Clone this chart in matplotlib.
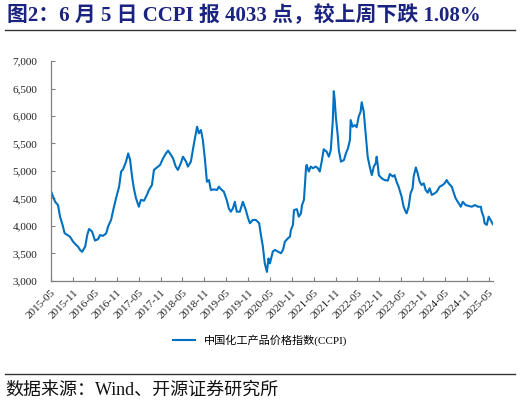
import pandas as pd
import matplotlib.pyplot as plt
import matplotlib.ticker as ticker
import matplotlib.dates as mdates
from matplotlib.lines import Line2D

plt.rcParams['font.family'] = ['Liberation Serif', 'Noto Sans CJK SC', 'DejaVu Sans']

# CCPI weekly index
dates = [
    '2015-05-01', '2015-06-04', '2015-06-28', '2015-07-15', '2015-08-05', '2015-08-22',
    '2015-09-12', '2015-10-06', '2015-11-01', '2015-11-26', '2015-12-12', '2015-12-29',
    '2016-01-15', '2016-02-10', '2016-02-27', '2016-03-13', '2016-04-07', '2016-05-02',
    '2016-05-27', '2016-06-13', '2016-07-07', '2016-08-03', '2016-08-19', '2016-09-13',
    '2016-10-01', '2016-10-25', '2016-11-19', '2016-12-06', '2016-12-22', '2017-01-16',
    '2017-02-03', '2017-02-19', '2017-03-07', '2017-03-22', '2017-04-09', '2017-05-03',
    '2017-05-20', '2017-06-15', '2017-07-09', '2017-07-26', '2017-08-20', '2017-09-06',
    '2017-10-01', '2017-10-27', '2017-11-21', '2017-12-15', '2018-01-02', '2018-01-27',
    '2018-02-12', '2018-03-07', '2018-03-25', '2018-04-18', '2018-05-06', '2018-06-01',
    '2018-06-16', '2018-07-11', '2018-08-06', '2018-09-01', '2018-09-16', '2018-10-03',
    '2018-10-19', '2018-11-06', '2018-11-22', '2018-12-09', '2018-12-25', '2019-01-20',
    '2019-02-15', '2019-03-01', '2019-03-26', '2019-04-12', '2019-05-06', '2019-05-24',
    '2019-06-10', '2019-06-27', '2019-07-13', '2019-07-29', '2019-08-24', '2019-09-10',
    '2019-09-18', '2019-10-13', '2019-11-01', '2019-11-16', '2019-12-10', '2020-01-05',
    '2020-02-01', '2020-02-16', '2020-03-03', '2020-03-19', '2020-04-06', '2020-04-19',
    '2020-05-01', '2020-05-25', '2020-06-12', '2020-07-06', '2020-08-01', '2020-08-18',
    '2020-09-03', '2020-09-28', '2020-10-15', '2020-10-23', '2020-11-09', '2020-11-18',
    '2020-12-12', '2020-12-28', '2021-01-15', '2021-01-24', '2021-02-09', '2021-02-27',
    '2021-03-04', '2021-03-21', '2021-04-07', '2021-04-24', '2021-05-18', '2021-06-05',
    '2021-06-21', '2021-07-07', '2021-07-24', '2021-08-18', '2021-09-05', '2021-09-21',
    '2021-09-30', '2021-10-08', '2021-10-16', '2021-10-24', '2021-11-02', '2021-11-19',
    '2021-11-27', '2021-12-15', '2022-01-09', '2022-01-25', '2022-02-11', '2022-02-28',
    '2022-03-06', '2022-03-22', '2022-04-09', '2022-04-25', '2022-05-12', '2022-05-28',
    '2022-06-06', '2022-06-23', '2022-07-09', '2022-07-26', '2022-08-12', '2022-08-29',
    '2022-09-15', '2022-10-01', '2022-10-09', '2022-10-18', '2022-10-27', '2022-11-21',
    '2022-12-15', '2023-01-10', '2023-01-27', '2023-02-21', '2023-03-07', '2023-03-24',
    '2023-04-10', '2023-05-05', '2023-05-22', '2023-06-08', '2023-06-16', '2023-07-03',
    '2023-07-19', '2023-08-05', '2023-08-14', '2023-09-01', '2023-09-16', '2023-10-03',
    '2023-10-19', '2023-11-06', '2023-11-22', '2023-12-09', '2023-12-25', '2024-01-12',
    '2024-02-06', '2024-02-23', '2024-03-18', '2024-04-12', '2024-04-28', '2024-05-15',
    '2024-06-01', '2024-06-27', '2024-07-13', '2024-07-29', '2024-08-24', '2024-09-10',
    '2024-09-27', '2024-10-21', '2024-11-15', '2024-12-10', '2025-01-05', '2025-02-01',
    '2025-02-25', '2025-03-04', '2025-03-19', '2025-03-28', '2025-04-15', '2025-05-01',
    '2025-05-16', '2025-06-05',
]
ccpi = [
    4630, 4440, 4380, 4170, 4020, 3870,
    3840, 3805, 3715, 3655, 3625, 3565,
    3530, 3625, 3835, 3945, 3900, 3735,
    3760, 3835, 3820, 3865, 3990, 4110,
    4290, 4510, 4715, 4990, 5030, 5170,
    5320, 5200, 4900, 4685, 4505, 4350,
    4475, 4460, 4565, 4655, 4745, 5020,
    5065, 5110, 5230, 5320, 5370, 5290,
    5230, 5080, 5020, 5140, 5260, 5170,
    5080, 5170, 5500, 5805, 5685, 5745,
    5565, 5200, 4805, 4835, 4655, 4665,
    4655, 4715, 4655, 4625, 4475, 4320,
    4260, 4320, 4440, 4260, 4260, 4380,
    4440, 4290, 4140, 4050, 4110, 4110,
    4050, 3835, 3625, 3320, 3165, 3410,
    3320, 3535, 3565, 3535, 3505, 3565,
    3715, 3775, 3805, 3925, 4020, 4290,
    4305, 4170, 4230, 4380, 4475, 5080,
    5110, 4990, 5080, 5050, 5080, 5050,
    4990, 5170, 5395, 5350, 5260, 5380,
    5685, 5925, 6450, 6290, 5990, 5625,
    5380, 5170, 5200, 5320, 5410, 5565,
    5925, 5805, 5835, 5795, 5990, 6080,
    6250, 6080, 5685, 5260, 5080, 4925,
    5080, 5140, 5260, 5110, 4925, 4865,
    4835, 4825, 4945, 4900, 4925, 4805,
    4715, 4535, 4350, 4260, 4230, 4350,
    4595, 4685, 4900, 5065, 4960, 4805,
    4745, 4775, 4655, 4605, 4685, 4565,
    4595, 4625, 4715, 4745, 4775, 4835,
    4775, 4715, 4605, 4505, 4410, 4350,
    4440, 4380, 4365, 4350, 4380, 4350,
    4350, 4260, 4170, 4050, 4020, 4170,
    4110, 4033,
]
tick_dates = pd.date_range('2015-05-01', '2025-05-01', freq='6MS')
title = '图2：6 月 5 日 CCPI 报 4033 点，较上周下跌 1.08%'
legend_label = '中国化工产品价格指数(CCPI)'
source = '数据来源：Wind、开源证券研究所'

df = pd.DataFrame({'date': pd.to_datetime(dates), 'ccpi': ccpi})

fig = plt.figure(figsize=(5.21, 4.04), dpi=100)
ax = fig.add_axes([0.098, 0.3045, 0.848, 0.5445])

ax.plot(df['date'], df['ccpi'], color='#0070C0', linewidth=1.5, label=legend_label)

ax.set_ylim(3000, 7000)
ax.yaxis.set_major_locator(ticker.MultipleLocator(500))
ax.yaxis.set_major_formatter(ticker.FuncFormatter(lambda v, p: f'{int(v):,}'))
ax.set_xlim(pd.Timestamp('2015-05-01'), pd.Timestamp('2025-06-05'))
ax.set_xticks(tick_dates)
ax.xaxis.set_major_formatter(mdates.DateFormatter('%Y-%m'))

for s in ['top', 'right']:
    ax.spines[s].set_visible(False)
for s in ['left', 'bottom']:
    ax.spines[s].set_color('#808080')
    ax.spines[s].set_linewidth(0.9)

ax.tick_params(axis='both', direction='in', length=3, width=0.8, color='#808080',
               labelsize=8, labelcolor='#222222')
ax.tick_params(axis='y', pad=10)
ax.tick_params(axis='x', pad=5)
plt.setp(ax.get_xticklabels(), rotation=45, ha='right', rotation_mode='anchor')

fig.legend(loc='center', bbox_to_anchor=(0.5, 0.158), frameon=False,
           handlelength=2.0, prop={'size': 8})

fig.text(0.014, 0.962, title, fontsize=15, fontweight='bold', color='#1B2380',
         va='center', ha='left')
fig.add_artist(Line2D([0.01, 0.988], [0.926, 0.926], color='#333333', linewidth=1.0))
fig.add_artist(Line2D([0.01, 0.988], [0.074, 0.074], color='#333333', linewidth=1.0))
fig.text(0.01, 0.035, source, fontsize=13, color='#111111', va='center', ha='left')

fig.savefig('out.png', dpi=100)
